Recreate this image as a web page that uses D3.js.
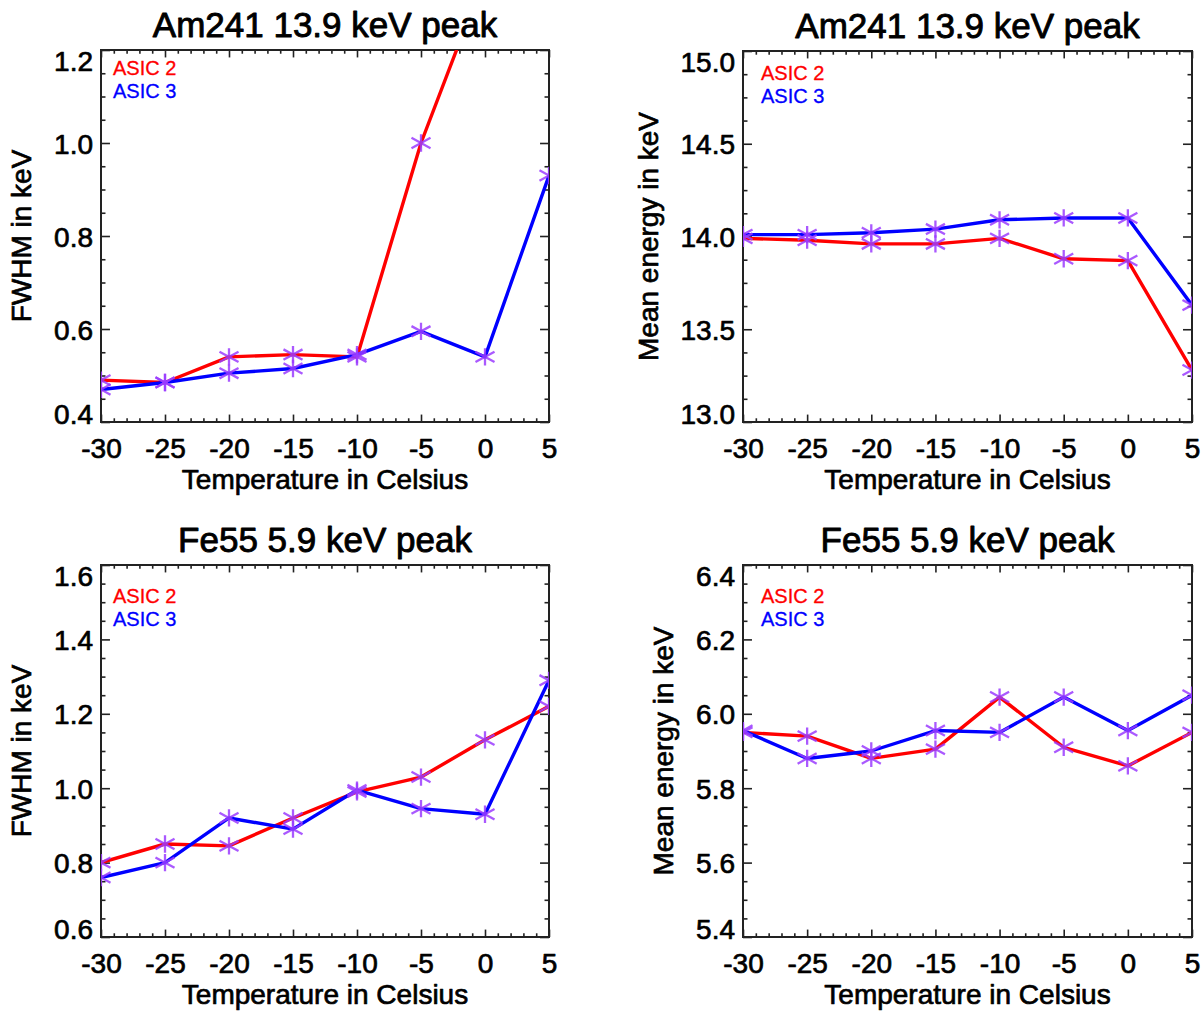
<!DOCTYPE html>
<html>
<head>
<meta charset="utf-8">
<script src="https://cdn.jsdelivr.net/npm/d3@7/dist/d3.min.js"></script>
<style>
  html, body { margin: 0; padding: 0; background: #fff; }
  svg { display: block; }
</style>
</head>
<body>
<svg id="chart" width="1202" height="1013"></svg>
<script>
// Temperatures (Celsius) at which both ASICs were measured
const temperatures = [-30, -25, -20, -15, -10, -5, 0, 5];
const xTickValues = [-30, -25, -20, -15, -10, -5, 0, 5];
const seriesNames = ["ASIC 2", "ASIC 3"];

// Am241 13.9 keV peak: FWHM (keV)
const am241FwhmAsic2 = [0.49, 0.485, 0.54, 0.545, 0.54, 1.00, 1.36, 1.60];
const am241FwhmAsic3 = [0.47, 0.485, 0.505, 0.515, 0.545, 0.595, 0.54, 0.93];
// Am241 13.9 keV peak: mean energy (keV)
const am241MeanAsic2 = [13.99, 13.98, 13.96, 13.96, 13.99, 13.88, 13.87, 13.28];
const am241MeanAsic3 = [14.01, 14.01, 14.02, 14.04, 14.09, 14.10, 14.10, 13.63];
// Fe55 5.9 keV peak: FWHM (keV)
const fe55FwhmAsic2 = [0.80, 0.85, 0.845, 0.92, 0.99, 1.03, 1.13, 1.22];
const fe55FwhmAsic3 = [0.76, 0.80, 0.92, 0.89, 0.995, 0.945, 0.93, 1.29];
// Fe55 5.9 keV peak: mean energy (keV)
const fe55MeanAsic2 = [5.95, 5.94, 5.88, 5.905, 6.045, 5.91, 5.86, 5.95];
const fe55MeanAsic3 = [5.955, 5.88, 5.90, 5.955, 5.95, 6.045, 5.955, 6.05];

// Axis ranges and tick labels
const fwhmAm241Ticks = [0.4, 0.6, 0.8, 1.0, 1.2];
const meanAm241Ticks = [13.0, 13.5, 14.0, 14.5, 15.0];
const fwhmFe55Ticks = [0.6, 0.8, 1.0, 1.2, 1.4, 1.6];
const meanFe55Ticks = [5.4, 5.6, 5.8, 6.0, 6.2, 6.4];

const panelTitles = ["Am241 13.9 keV peak", "Fe55 5.9 keV peak"];
const yAxisTitles = ["FWHM in keV", "Mean energy in keV"];
const xAxisTitle = "Temperature in Celsius";

// Layout of the four plot windows
const panels = [
  { title: panelTitles[0], yTitle: yAxisTitles[0], ticks: fwhmAm241Ticks,
    s2: am241FwhmAsic2, s3: am241FwhmAsic3,
    left: 101, right: 549, top: 50, bottom: 422, legendDx: 12, legendDy: 25 },
  { title: panelTitles[0], yTitle: yAxisTitles[1], ticks: meanAm241Ticks,
    s2: am241MeanAsic2, s3: am241MeanAsic3,
    left: 743, right: 1192, top: 51, bottom: 422, legendDx: 18, legendDy: 29 },
  { title: panelTitles[1], yTitle: yAxisTitles[0], ticks: fwhmFe55Ticks,
    s2: fe55FwhmAsic2, s3: fe55FwhmAsic3,
    left: 101, right: 549, top: 565, bottom: 937, legendDx: 12, legendDy: 38 },
  { title: panelTitles[1], yTitle: yAxisTitles[1], ticks: meanFe55Ticks,
    s2: fe55MeanAsic2, s3: fe55MeanAsic3,
    left: 743, right: 1192, top: 565, bottom: 937, legendDx: 18, legendDy: 38 }
];

const FONT = "'Liberation Sans', Arial, Helvetica, sans-serif";
const AXIS_COLOR = "#222";
const seriesColors = ["#ff0000", "#0000ff"];
const markerColor = "#9b3cff";

// IDL-style asterisk: vertical stroke plus two flat diagonals
const asterisk = {
  draw(ctx, size) {
    const r = Math.sqrt(size) / 2;
    ctx.moveTo(0, -r); ctx.lineTo(0, r);
    ctx.moveTo(-r * 1.1, -r * 0.6); ctx.lineTo(r * 1.1, r * 0.6);
    ctx.moveTo(-r * 1.1, r * 0.6); ctx.lineTo(r * 1.1, -r * 0.6);
  }
};

// slightly heavier glyphs, like the screen rendering of Helvetica
function heavyText(sel, color, weight) {
  sel.attr("stroke", color).attr("stroke-width", weight)
    .attr("stroke-linejoin", "round").attr("paint-order", "stroke");
}

const svg = d3.select("#chart");
const fmt = d3.format(".1f");

panels.forEach((p, i) => {
  const w = p.right - p.left, h = p.bottom - p.top;
  const x = d3.scaleLinear().domain([-30, 5]).range([0, w]);
  const yMin = p.ticks[0], yMax = p.ticks[p.ticks.length - 1];
  const y = d3.scaleLinear().domain([yMin, yMax]).range([h, 0]);
  const step = p.ticks[1] - p.ticks[0];

  const g = svg.append("g").attr("transform", `translate(${p.left},${p.top})`);

  const clipId = "clip" + i;
  g.append("clipPath").attr("id", clipId)
    .append("rect").attr("width", w).attr("height", h);

  // minor tick values
  const xMinor = d3.range(-30, 5.001, 1).filter(v => Math.abs(v % 5) > 1e-6);
  const yMinor = d3.range(0, Math.round((yMax - yMin) / (step / 4)) + 1)
    .map(k => yMin + k * step / 4)
    .filter((v, k) => k % 4 !== 0);

  const xMajLen = 0.02 * h, yMajLen = 0.02 * w;

  function styleAxis(sel) {
    sel.select(".domain").remove();
    sel.selectAll("line").attr("stroke", AXIS_COLOR).attr("stroke-width", 1.6);
    sel.attr("font-family", FONT).attr("font-size", 28);
    sel.selectAll("text").attr("fill", "#000").call(heavyText, "#000", 0.7);
  }

  // bottom axis with labels (plain hyphen for negatives)
  g.append("g").attr("transform", `translate(0,${h})`)
    .call(d3.axisBottom(x).tickValues(xTickValues).tickFormat(d => String(d))
      .tickSizeInner(-xMajLen).tickSizeOuter(0).tickPadding(16))
    .call(styleAxis);
  g.append("g").attr("transform", `translate(0,${h})`)
    .call(d3.axisBottom(x).tickValues(xMinor).tickFormat("")
      .tickSizeInner(-xMajLen / 2).tickSizeOuter(0))
    .call(styleAxis);
  // top axis (ticks only)
  g.append("g")
    .call(d3.axisTop(x).tickValues(xTickValues).tickFormat("")
      .tickSizeInner(-xMajLen).tickSizeOuter(0))
    .call(styleAxis);
  g.append("g")
    .call(d3.axisTop(x).tickValues(xMinor).tickFormat("")
      .tickSizeInner(-xMajLen / 2).tickSizeOuter(0))
    .call(styleAxis);

  // left axis with labels
  const yAxisG = g.append("g")
    .call(d3.axisLeft(y).tickValues(p.ticks).tickFormat(fmt)
      .tickSizeInner(-yMajLen).tickSizeOuter(0).tickPadding(8))
    .call(styleAxis);
  // keep end labels inside the frame's vertical extent
  yAxisG.selectAll(".tick text").attr("dy", null).attr("y", d => {
    const ty = y(d);
    const c = Math.min(Math.max(ty, 10), h - 9);
    return c - ty + 10;
  });
  g.append("g")
    .call(d3.axisLeft(y).tickValues(yMinor).tickFormat("")
      .tickSizeInner(-yMajLen / 2).tickSizeOuter(0))
    .call(styleAxis);
  // right axis (ticks only)
  g.append("g").attr("transform", `translate(${w},0)`)
    .call(d3.axisRight(y).tickValues(p.ticks).tickFormat("")
      .tickSizeInner(-yMajLen).tickSizeOuter(0))
    .call(styleAxis);
  g.append("g").attr("transform", `translate(${w},0)`)
    .call(d3.axisRight(y).tickValues(yMinor).tickFormat("")
      .tickSizeInner(-yMajLen / 2).tickSizeOuter(0))
    .call(styleAxis);

  // frame
  g.append("rect").attr("width", w).attr("height", h)
    .attr("fill", "none").attr("stroke", AXIS_COLOR).attr("stroke-width", 2);

  // data lines
  const line = d3.line().x((d, k) => x(temperatures[k])).y(d => y(d));
  const plot = g.append("g").attr("clip-path", `url(#${clipId})`);
  [p.s2, p.s3].forEach((vals, k) => {
    plot.append("path").datum(vals)
      .attr("d", line)
      .attr("fill", "none")
      .attr("stroke", seriesColors[k])
      .attr("stroke-width", 3.4)
      .attr("stroke-linejoin", "round");
  });
  // asterisk markers
  [p.s2, p.s3].forEach(vals => {
    plot.selectAll(null).data(vals).enter().append("path")
      .attr("transform", (d, k) => `translate(${x(temperatures[k])},${y(d)})`)
      .attr("d", d3.symbol().type(asterisk).size(300))
      .attr("fill", "none")
      .attr("stroke", markerColor)
      .attr("stroke-opacity", 0.85)
      .attr("stroke-width", 2.3);
  });

  // legend
  seriesNames.forEach((name, k) => {
    g.append("text")
      .attr("x", p.legendDx).attr("y", p.legendDy + k * 23)
      .attr("font-family", FONT).attr("font-size", 20)
      .attr("fill", seriesColors[k])
      .call(heavyText, seriesColors[k], 0.3)
      .text(name);
  });

  // panel title
  g.append("text")
    .attr("x", w / 2).attr("y", -13)
    .attr("text-anchor", "middle")
    .attr("font-family", FONT).attr("font-size", 35)
    .attr("fill", "#000")
    .call(heavyText, "#000", 0.9)
    .text(p.title);

  // x-axis title
  g.append("text")
    .attr("x", w / 2).attr("y", h + 67)
    .attr("text-anchor", "middle")
    .attr("font-family", FONT).attr("font-size", 28)
    .attr("fill", "#000")
    .call(heavyText, "#000", 0.7)
    .text(xAxisTitle);

  // y-axis title, placed left of the widest tick label
  let minX = 0;
  yAxisG.selectAll(".tick text").each(function () {
    const bb = this.getBBox();
    const tr = this.parentNode.transform.baseVal.consolidate();
    const tx = tr ? tr.matrix.e : 0;
    minX = Math.min(minX, bb.x + tx);
  });
  g.append("text")
    .attr("transform", `translate(${minX - 23},${h / 2}) rotate(-90)`)
    .attr("text-anchor", "middle")
    .attr("font-family", FONT).attr("font-size", 28)
    .attr("fill", "#000")
    .call(heavyText, "#000", 0.7)
    .text(p.yTitle);
});
</script>
</body>
</html>
